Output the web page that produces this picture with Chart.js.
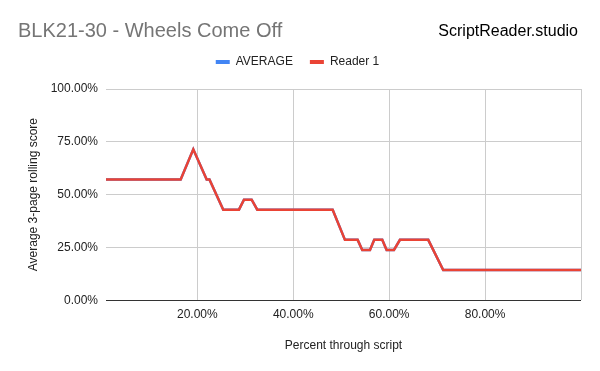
<!DOCTYPE html>
<html>
<head>
<meta charset="utf-8">
<script src="https://cdn.jsdelivr.net/npm/chart.js@4.4.1/dist/chart.umd.min.js"></script>
<style>
  html, body { margin: 0; padding: 0; background: #fff; }
  #wrap { width: 600px; height: 371px; position: relative; }
</style>
</head>
<body>
<div id="wrap"><canvas id="c" width="600" height="371"></canvas></div>
<script>
// ---- data ----
const chartTitle = 'BLK21-30 - Wheels Come Off';
const brandText = 'ScriptReader.studio';
const seriesNames = ['AVERAGE', 'Reader 1'];
const xPercent = [0.96, 16.53, 19.16, 21.95, 22.53, 25.41, 28.68, 29.73, 31.33, 32.50, 48.22, 50.78, 53.43, 54.39, 56.0, 56.89, 58.56, 59.47, 61.0, 62.25, 68.15, 71.27, 100];
const averageScores = [57.14, 57.14, 71.43, 57.14, 57.14, 42.86, 42.86, 47.62, 47.62, 42.86, 42.86, 28.57, 28.57, 23.81, 23.81, 28.57, 28.57, 23.81, 23.81, 28.57, 28.57, 14.29, 14.29];
const reader1Scores = [57.14, 57.14, 71.43, 57.14, 57.14, 42.86, 42.86, 47.62, 47.62, 42.86, 42.86, 28.57, 28.57, 23.81, 23.81, 28.57, 28.57, 23.81, 23.81, 28.57, 28.57, 14.29, 14.29];
const xTickValues = [20, 40, 60, 80, 100];
const yTickValues = [0, 25, 50, 75, 100];
const xAxisTitle = 'Percent through script';
const yAxisTitle = 'Average 3-page rolling score';

const FONT = '"Liberation Sans", Arial, sans-serif';
const toPoints = (ys) => ys.map((y, i) => ({ x: xPercent[i], y }));

const headerPlugin = {
  id: 'header',
  afterInit(chart) {
    const lg = chart.legend;
    if (lg) {
      const origFit = lg.fit.bind(lg);
      lg.fit = function () { origFit(); this.height += 11; };
      const origDraw = lg.draw.bind(lg);
      lg.draw = function () {
        const ctx = this.ctx;
        ctx.save();
        ctx.translate(7, 0);
        origDraw();
        ctx.restore();
      };
    }
  },
  afterDraw(chart) {
    const ctx = chart.ctx;
    ctx.save();
    ctx.textBaseline = 'alphabetic';
    ctx.font = '20px ' + FONT;
    ctx.fillStyle = '#757575';
    ctx.textAlign = 'left';
    ctx.fillText(chartTitle, 18, 37);
    ctx.font = '16px ' + FONT;
    ctx.fillStyle = '#000000';
    ctx.textAlign = 'right';
    ctx.fillText(brandText, 578, 36);
    ctx.restore();
  }
};

new Chart(document.getElementById('c'), {
  type: 'line',
  data: {
    datasets: [
      {
        label: seriesNames[1],
        data: toPoints(reader1Scores),
        borderColor: '#EA4335',
        backgroundColor: '#EA4335',
        borderWidth: 2.5,
        pointRadius: 0,
        tension: 0,
        order: 0
      },
      {
        label: seriesNames[0],
        data: toPoints(averageScores),
        borderColor: '#4285F4',
        backgroundColor: '#4285F4',
        borderWidth: 2.5,
        pointRadius: 0,
        tension: 0,
        order: 1
      }
    ]
  },
  options: {
    responsive: false,
    animation: false,
    events: [],
    layout: { padding: { top: 39, right: 19, bottom: 18, left: 0 } },
    plugins: {
      title: { display: false },
      tooltip: { enabled: false },
      legend: {
        display: true,
        position: 'top',
        align: 'center',
        labels: {
          font: { family: FONT, size: 12 },
          color: '#222222',
          boxWidth: 14,
          boxHeight: 4,
          padding: 17,
          generateLabels(chart) {
            const items = Chart.defaults.plugins.legend.labels.generateLabels(chart);
            items.forEach(it => { it.lineWidth = 0; });
            items.sort((a, b) => b.datasetIndex - a.datasetIndex);
            return items;
          }
        }
      }
    },
    scales: {
      x: {
        type: 'linear',
        min: xPercent[0],
        max: 100,
        afterBuildTicks(scale) { scale.ticks = xTickValues.map(v => ({ value: v })); },
        ticks: {
          autoSkip: false,
          maxRotation: 0,
          padding: 7,
          color: '#222222',
          font: { family: FONT, size: 12 },
          callback: (v) => v === 100 ? '' : v.toFixed(2) + '%'
        },
        grid: { color: '#cccccc', drawTicks: false, lineWidth: 1 },
        border: { display: false },
        title: {
          display: true,
          text: xAxisTitle,
          color: '#222222',
          font: { family: FONT, size: 12 },
          padding: { top: 10, bottom: 0 }
        }
      },
      y: {
        type: 'linear',
        min: 0,
        max: 100,
        afterBuildTicks(scale) { scale.ticks = yTickValues.map(v => ({ value: v })); },
        afterFit(scale) { scale.width = 106; },
        ticks: {
          padding: 8,
          color: '#222222',
          font: { family: FONT, size: 12 },
          callback: (v) => v.toFixed(2) + '%'
        },
        grid: {
          color: (c) => (c.tick && c.tick.value === 0) ? '#333333' : '#cccccc',
          drawTicks: false,
          lineWidth: 1
        },
        border: { display: false },
        title: {
          display: true,
          text: yAxisTitle,
          color: '#222222',
          font: { family: FONT, size: 12 },
          padding: { top: 26, bottom: 0 }
        }
      }
    }
  },
  plugins: [headerPlugin]
});
</script>
</body>
</html>
